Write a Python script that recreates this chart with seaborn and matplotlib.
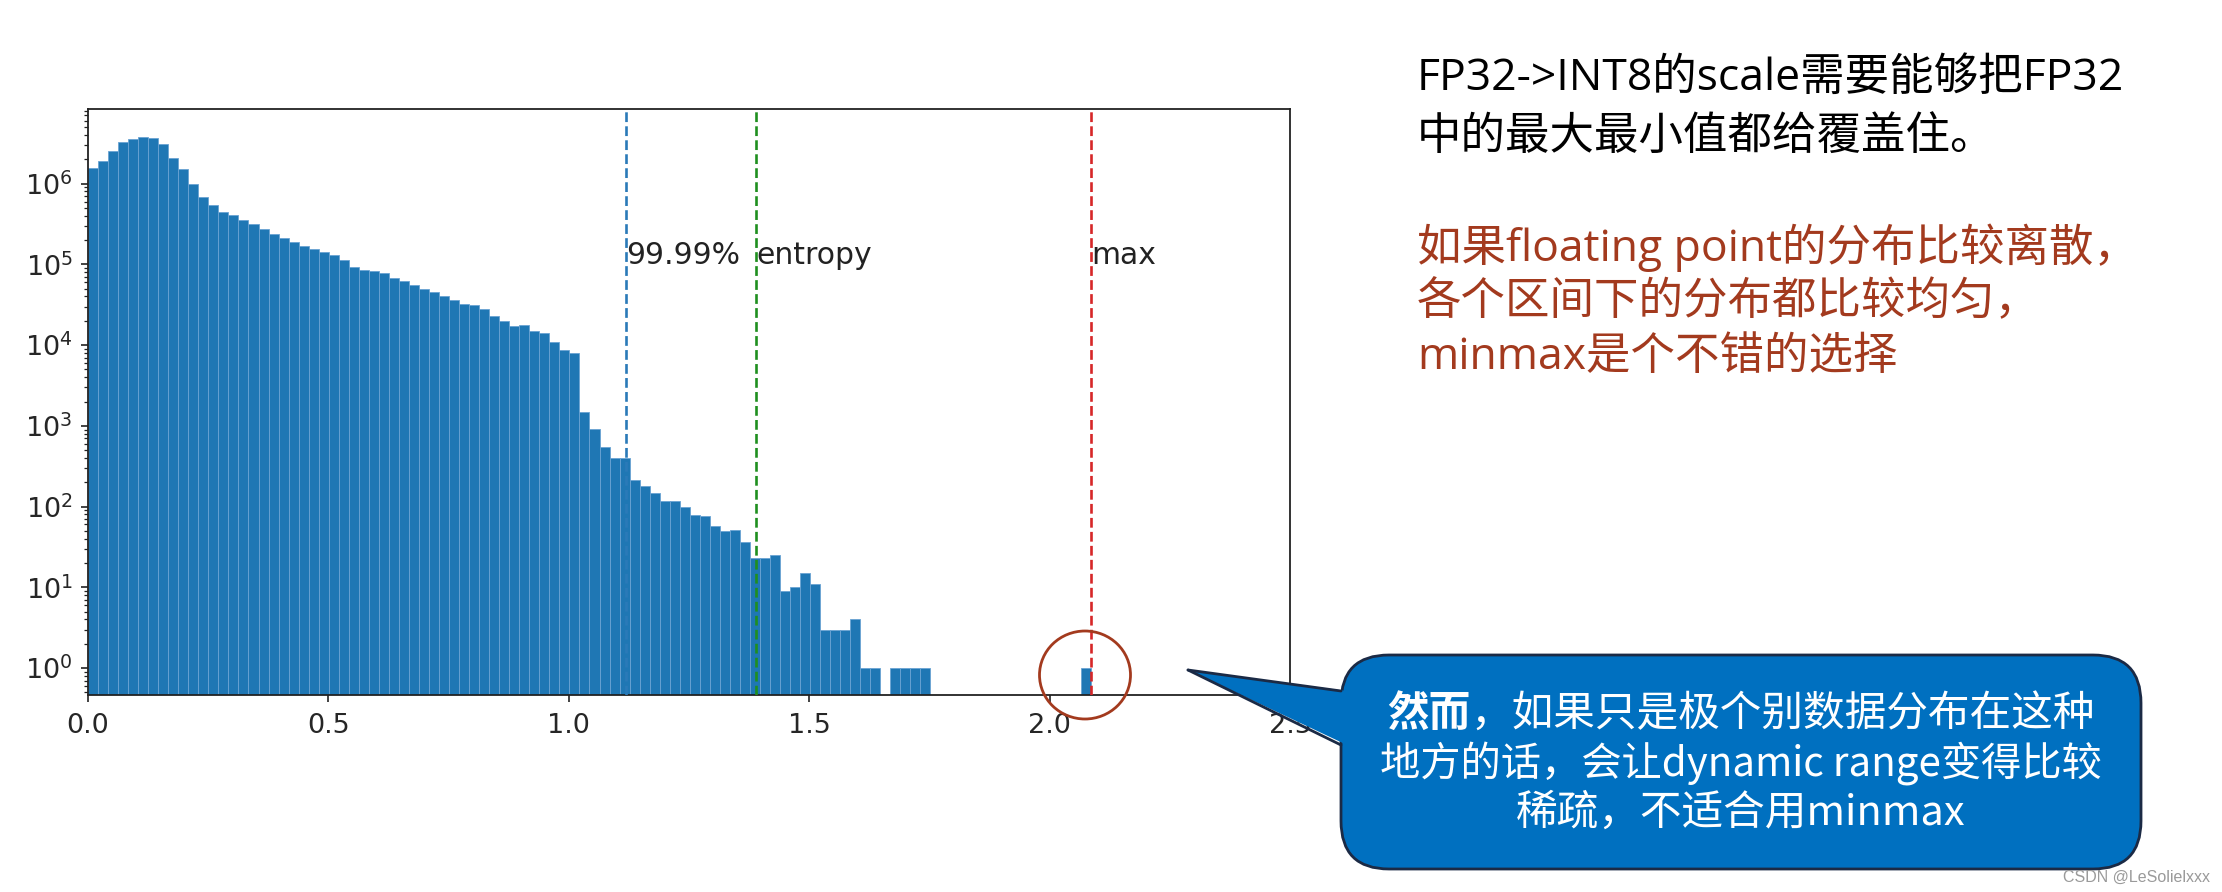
import numpy as np
import pandas as pd
import matplotlib
matplotlib.use("Agg")
import matplotlib.pyplot as plt
import seaborn as sns
from matplotlib.patches import FancyBboxPatch, Polygon, Ellipse

# ---------------- data ----------------
value_max = 2.086          # largest activation value (right edge of last bin)
n_bins = 100
counts = [
    1.55e6, 1.9e6, 2.5e6, 3.3e6, 3.6e6, 3.8e6, 3.7e6, 3.1e6, 2.1e6, 1.5e6,
    1.0e6, 6.9e5, 5.5e5, 4.5e5, 4.05e5, 3.5e5, 3.2e5, 2.75e5, 2.4e5, 2.15e5,
    1.9e5, 1.7e5, 1.57e5, 1.42e5, 1.29e5, 1.13e5, 9.2e4, 8.6e4, 8.2e4, 7.8e4,
    6.8e4, 6.2e4, 5.5e4, 5.0e4, 4.6e4, 4.1e4, 3.65e4, 3.2e4, 3.1e4, 2.8e4,
    2.3e4, 1.96e4, 1.7e4, 1.75e4, 1.48e4, 1.41e4, 1.1e4, 8.8e3, 7.9e3, 1.5e3,
    910, 540, 400, 400, 214, 181, 146, 116, 116, 100,
    78, 76, 57, 50, 51, 36, 23, 23, 25, 9,
    10, 15, 11, 3, 3, 3, 4, 1, 1, 0,
    1, 1, 1, 1, 0, 0, 0, 0, 0, 0,
    0, 0, 0, 0, 0, 0, 0, 0, 0, 1,
]
threshold_values = [1.12, 1.39, 2.086]
threshold_labels = ["99.99%", "entropy", "max"]
threshold_colors = ["#2a7ab8", "#1f8f1f", "#d62728"]
x_ticks = [0.0, 0.5, 1.0, 1.5, 2.0, 2.5]

title_lines = ["FP32->INT8的scale需要能够把FP32", "中的最大最小值都给覆盖住。"]
red_lines = ["如果floating point的分布比较离散，", "各个区间下的分布都比较均匀，", "minmax是个不错的选择"]
callout_bold = "然而"
callout_lines = ["，如果只是极个别数据分布在这种", "地方的话，会让dynamic range变得比较", "稀疏，不适合用minmax"]
watermark = "CSDN @LeSolielxxx"

# ---------------- style ----------------
sns.set_style("ticks")
plt.rcParams["font.family"] = ["DejaVu Sans", "Noto Sans CJK SC"]
CJK = ["Noto Sans CJK SC", "DejaVu Sans"]
CJK_WIDE = ["Open Sans", "Noto Sans CJK SC", "DejaVu Sans"]

W, H = 2222, 892
fig = plt.figure(figsize=(W / 100, H / 100), dpi=100)
fig.patch.set_facecolor("white")

ax_l, ax_r, ax_t, ax_b = 88, 1290, 109, 694.5
ax = fig.add_axes([ax_l / W, 1 - ax_b / H, (ax_r - ax_l) / W, (ax_b - ax_t) / H])

bin_w = value_max / n_bins
centers = [(i + 0.5) * bin_w for i in range(n_bins)]
df = pd.DataFrame({"value": centers, "count": counts})

sns.histplot(data=df, x="value", weights="count", bins=n_bins, binrange=(0, value_max), ax=ax,
             color="#1f77b4", alpha=1, edgecolor="#6aa3d3", linewidth=0.6)
ax.set_yscale("log")
ax.set_ylim(0.47, 8.4e6)
ax.set_xlim(0, 2.5)
ax.set_xticks(x_ticks)
ax.set_xlabel("")
ax.set_ylabel("")

for v, lab, c in zip(threshold_values, threshold_labels, threshold_colors):
    ax.axvline(v, color=c, linestyle="--", linewidth=1.9, zorder=5)
    ax.text(v, 1e5, lab, fontsize=21.5, color="#222222", zorder=6)

for s in ax.spines.values():
    s.set_visible(True)
    s.set_color("#222222")
    s.set_linewidth(1.3)
ax.tick_params(axis="both", which="major", labelsize=19.5, length=5, width=1.2, color="#222222")
ax.tick_params(axis="x", which="major", pad=8)
ax.tick_params(axis="y", which="major", pad=6)
ax.tick_params(axis="y", which="minor", length=3, width=0.9, color="#222222")

# ---------------- overlay (pixel coordinates) ----------------
ov = fig.add_axes([0, 0, 1, 1], zorder=10)
ov.set_xlim(0, W)
ov.set_ylim(H, 0)
ov.axis("off")
ov.patch.set_alpha(0)

# right-hand explanatory text
for y, line in zip([79, 138], title_lines):
    ov.text(1417, y, line, fontsize=32, color="black", family=CJK_WIDE, ha="left", va="center")
for y, line in zip([248, 303, 358], red_lines):
    ov.text(1417, y, line, fontsize=32, color="#A33A1E", family=CJK_WIDE, ha="left", va="center")

# circle around the max bar
ov.add_patch(Ellipse((1085, 675), 91, 88, fill=False, edgecolor="#A33A1E", linewidth=2))

# callout bubble
fill_c, edge_c = "#0070C0", "#1B2A45"
bx0, by0, bx1, by1 = 1341, 655, 2141, 869
r = 48
box = FancyBboxPatch((bx0 + r, by0 + r), (bx1 - bx0) - 2 * r, (by1 - by0) - 2 * r,
                     boxstyle=f"round,pad={r},rounding_size={r}",
                     facecolor=fill_c, edgecolor=edge_c, linewidth=2)
ov.add_patch(box)
tip = (1188, 670)
b1, b2 = (bx0, 691), (bx0, 745)
ov.add_patch(Polygon([tip, (bx0 + 6, 691), (bx0 + 6, 745)], closed=True,
                     facecolor=fill_c, edgecolor="none"))
ov.plot([tip[0], b1[0]], [tip[1], b1[1]], color=edge_c, linewidth=2, solid_capstyle="round")
ov.plot([tip[0], b2[0]], [tip[1], b2[1]], color=edge_c, linewidth=2, solid_capstyle="round")

em = 30 / 72 * 100
cx = (bx0 + bx1) / 2
x_start = cx - 17 * em / 2
ov.text(x_start, 714, callout_bold, fontsize=30, color="white", family=CJK,
        weight="bold", ha="left", va="center")
ov.text(x_start + 2 * em, 714, callout_lines[0], fontsize=30, color="white", family=CJK,
        ha="left", va="center")
ov.text(cx, 764, callout_lines[1], fontsize=29, color="white", family=CJK, ha="center", va="center")
ov.text(cx, 813, callout_lines[2], fontsize=30, color="white", family=CJK, ha="center", va="center")

ov.text(2063, 877, watermark, fontsize=11.5, color="#9a9a9a", family=["Liberation Sans"],
        ha="left", va="center")

fig.savefig("out.png", dpi=100, facecolor="white")
